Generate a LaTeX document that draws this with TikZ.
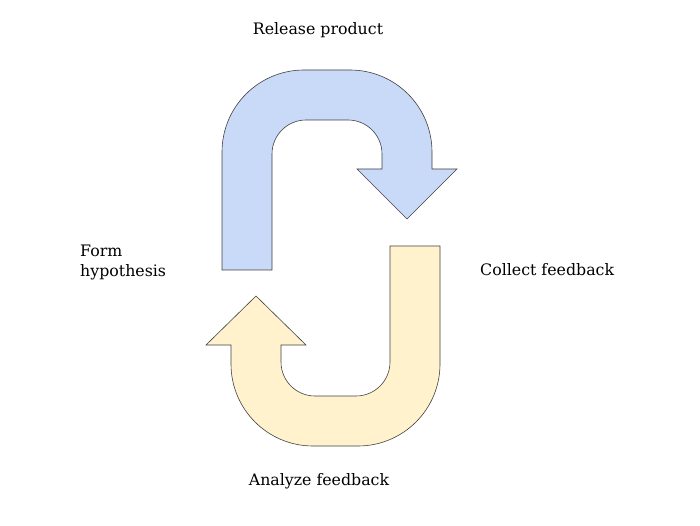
\documentclass[tikz,border=0pt]{standalone}
\usepackage{fontspec}
\setmainfont{DejaVu Serif}
\usetikzlibrary{positioning}

\definecolor{bluefill}{HTML}{C9DAF8}
\definecolor{yellowfill}{HTML}{FFF2CC}

\begin{document}
\begin{tikzpicture}[
            x = 1pt, y = 1pt, % one unit is one pixel
            step label/.style = {font=\fontsize{15.8}{20}\selectfont, inner sep=0pt},
            thin
        ]

        \tikzstyle{loop arrow}=[
            draw = black!75,
            line width = 0.6pt,
            line join = miter
        ]

        \useasboundingbox (0,0) rectangle (700,525);

        % upper arrow: release product
        \draw[loop arrow, fill = bluefill] (222,255) -- (222,373)
            arc[start angle=180, end angle=90, radius=82pt] -- (350,455)
            arc[start angle=90, end angle=0, radius=82pt] -- (432,356)
            -- (457,356) -- (407,306) -- (357,356) -- (382,356) -- (382,371)
            arc[start angle=0, end angle=90, radius=34pt] -- (306,405)
            arc[start angle=90, end angle=180, radius=34pt] -- (272,255) -- cycle;

        % lower arrow: analyze feedback
        \draw[loop arrow, fill = yellowfill] (390,279) -- (440,279) -- (440,161)
            arc[start angle=0, end angle=-90, radius=82pt] -- (313,79)
            arc[start angle=270, end angle=180, radius=82pt] -- (231,180)
            -- (206,180) -- (256,229) -- (306,180) -- (281,180) -- (281,163)
            arc[start angle=180, end angle=270, radius=34pt] -- (356,129)
            arc[start angle=270, end angle=360, radius=34pt] -- cycle;

        \node[step label] (release) at (318,495) {Release product};
        \node[step label, anchor=west] (collect) at (480,255) {Collect feedback};
        \node[step label] (analyze) at (319,44) {Analyze feedback};
        \node[step label, anchor=west, align=left] (form) at (80,263) {Form\\hypothesis};

    \end{tikzpicture}
\end{document}
